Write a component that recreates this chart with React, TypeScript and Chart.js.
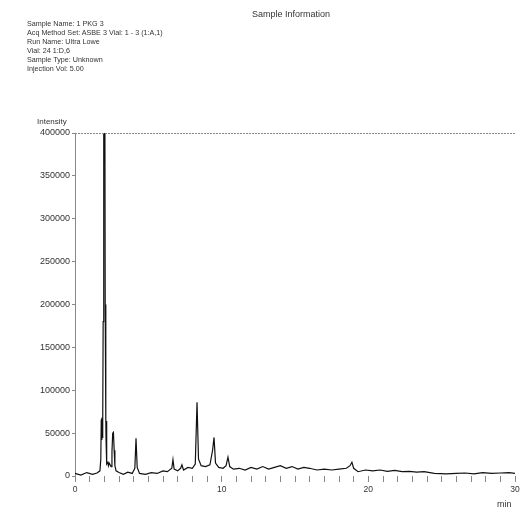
import React, { useEffect, useRef } from "react";
import { Chart, registerables } from "chart.js";

Chart.register(...registerables);

// Retention time (min)
const times: number[] = [
  0.0, 0.4, 0.8, 1.2, 1.5, 1.7, 1.76, 1.79, 1.82, 1.84, 1.86, 1.88, 1.9, 1.92, 1.96, 2.02,
  2.06, 2.1, 2.12, 2.14, 2.16, 2.18, 2.24, 2.28, 2.33, 2.38, 2.46, 2.52, 2.57, 2.62, 2.67,
  2.72, 2.8, 3.0, 3.3, 3.6, 3.9, 4.08, 4.16, 4.24, 4.4, 4.8, 5.2, 5.6, 6.0, 6.3, 6.6, 6.68,
  6.76, 7.0, 7.2, 7.29, 7.4, 7.7, 8.0, 8.2, 8.32, 8.42, 8.6, 8.9, 9.2, 9.38, 9.48, 9.58,
  9.8, 10.1, 10.3, 10.43, 10.55, 10.8, 11.2, 11.6, 12.0, 12.4, 12.8, 13.2, 13.6, 14.0, 14.4,
  14.8, 15.2, 15.6, 16.0, 16.5, 17.0, 17.5, 18.0, 18.5, 18.75, 18.88, 19.0, 19.3, 19.8,
  20.3, 20.8, 21.3, 21.8, 22.3, 22.8, 23.3, 23.8, 24.5, 25.3, 26.0, 26.6, 27.2, 27.8, 28.4,
  29.0, 29.6, 30.0,
];

// Detector intensity
const intensities: number[] = [
  3000, 1000, 4000, 2000, 3500, 6000, 20000, 66000, 42000, 68000, 45000, 69000, 60000,
  180000, 600000, 600000, 200000, 66000, 40000, 64000, 38000, 14000, 16000, 12000, 15000,
  15000, 11000, 28000, 50000, 51000, 30000, 12000, 6000, 4000, 2000, 4500, 3000, 9000,
  44000, 10000, 3000, 2000, 4000, 3000, 6000, 5000, 9000, 19000, 8000, 6000, 9000, 13000,
  7000, 10000, 9000, 14000, 86000, 20000, 12000, 11000, 13000, 30000, 45000, 15000, 10000,
  9000, 12000, 22000, 11000, 8000, 9000, 7000, 10000, 8000, 11000, 8000, 10000, 12000, 9000,
  11000, 8000, 10000, 9000, 7000, 8000, 7000, 8000, 9000, 12000, 16000, 9000, 5000, 7000,
  6000, 7000, 5500, 6500, 5000, 5500, 4500, 5000, 3000, 2500, 3000, 3500, 2500, 4000, 3000,
  3500, 4000, 3000,
];

const xTickLabels: number[] = [0, 10, 20, 30];
const yMax = 400000;
const yStep = 50000;

const headerLines: string[] = [
  "Sample Name: 1 PKG 3",
  "Acq Method Set: ASBE 3  Vial: 1 - 3 (1:A,1)",
  "Run Name: Ultra Lowe",
  "Vial: 24 1:D,6",
  "Sample Type: Unknown",
  "Injection Vol: 5.00",
];

const textColor = "#333";
const axisColor = "#888";
const fontFamily = "'Liberation Sans', Arial, sans-serif";

export default function App() {
  const canvasRef = useRef<HTMLCanvasElement | null>(null);

  useEffect(() => {
    if (!canvasRef.current) return;
    const topFrame = {
      id: "topFrame",
      afterDraw(chart: any) {
        const { ctx, chartArea } = chart;
        ctx.save();
        ctx.strokeStyle = axisColor;
        ctx.lineWidth = 1;
        ctx.setLineDash([2, 1]);
        ctx.beginPath();
        ctx.moveTo(chartArea.left, chartArea.top + 0.5);
        ctx.lineTo(chartArea.right, chartArea.top + 0.5);
        ctx.stroke();
        ctx.restore();
      },
    };
    const chart = new Chart(canvasRef.current, {
      type: "scatter",
      data: {
        datasets: [
          {
            data: times.map((t, i) => ({ x: t, y: intensities[i] })),
            showLine: true,
            borderColor: "#111",
            borderWidth: 1.2,
            pointRadius: 0,
            tension: 0,
          },
        ],
      },
      options: {
        animation: false,
        responsive: false,
        devicePixelRatio: 1,
        layout: { padding: { top: 133, right: 10, left: 0, bottom: 0 } },
        plugins: { legend: { display: false }, tooltip: { enabled: false }, title: { display: false } },
        scales: {
          x: {
            type: "linear",
            min: 0,
            max: 30,
            afterFit(scale: any) {
              scale.height = 42;
            },
            border: { display: false },
            grid: {
              display: true,
              drawOnChartArea: false,
              drawTicks: true,
              tickLength: 6,
              color: axisColor,
            },
            ticks: {
              stepSize: 1,
              autoSkip: false,
              maxRotation: 0,
              padding: 3,
              color: textColor,
              font: { size: 8.5, family: fontFamily },
              callback: (v: any) => (xTickLabels.includes(Number(v)) ? String(v) : ""),
            },
          },
          y: {
            min: 0,
            max: yMax,
            afterFit(scale: any) {
              scale.width = 75;
            },
            border: { display: true, color: axisColor, width: 1, dash: [2, 1] },
            grid: {
              display: true,
              drawOnChartArea: false,
              drawTicks: true,
              tickLength: 3,
              color: axisColor,
            },
            ticks: {
              stepSize: yStep,
              padding: 2,
              color: textColor,
              font: { size: 9, family: fontFamily },
              callback: (v: any) => String(v),
            },
          },
        },
      },
      plugins: [topFrame],
    });
    return () => chart.destroy();
  }, []);

  const abs = (extra: React.CSSProperties): React.CSSProperties => ({
    position: "absolute",
    fontFamily,
    color: textColor,
    whiteSpace: "nowrap",
    lineHeight: 1,
    ...extra,
  });

  return (
    <div style={{ position: "absolute", left: 0, top: 0, width: 525, height: 518, background: "#fff" }}>
      <canvas ref={canvasRef} width={525} height={518} style={{ position: "absolute", left: 0, top: 0 }} />
      <div style={abs({ left: 252, top: 10, fontSize: 9 })}>Sample Information</div>
      {headerLines.map((line, i) => (
        <div key={i} style={abs({ left: 27, top: 20 + i * 9, fontSize: 7.2 })}>
          {line}
        </div>
      ))}
      <div style={abs({ left: 37, top: 118, fontSize: 8 })}>Intensity</div>
      <div style={abs({ left: 497, top: 500, fontSize: 9 })}>min</div>
    </div>
  );
}
